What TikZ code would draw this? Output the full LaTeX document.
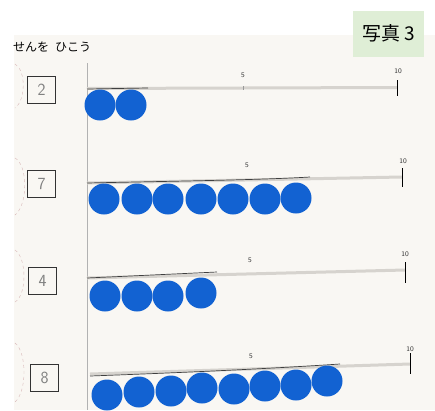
\documentclass[tikz,border=0pt]{standalone}
\usepackage{fontspec}
\newfontfamily\jp{Noto Sans CJK JP}
\definecolor{paper}{HTML}{F9F7F3}
\definecolor{dotblue}{HTML}{1262D2}
\definecolor{labelgreen}{HTML}{DFEED6}
\definecolor{rulegray}{HTML}{D6D3CE}
\definecolor{pencil}{HTML}{D8B8B8}
\tikzset{
  dot/.style={circle,fill=dotblue,inner sep=0pt,minimum size=31pt},
  numbox/.style={draw=black!80,line width=0.6pt,minimum width=28pt,minimum height=27pt,inner sep=0pt,font=\sffamily\fontsize{17}{17}\selectfont,text=black!50},
  ticklbl/.style={font=\sffamily\fontsize{7}{7}\selectfont,text=black!80,inner sep=0pt},
  grayrule/.style={rulegray,line width=3pt},
  darkrule/.style={black!75,line width=0.7pt},
  endtick/.style={black,line width=1pt},
  faint/.style={pencil,dashed,line width=0.4pt},
  edge/.style={black!30,line width=0.5pt}
}
\begin{document}
\begin{tikzpicture}[x=1pt,y=-1pt]
\useasboundingbox (0,0) rectangle (435,410);
\fill[white] (0,0) rectangle (435,410);
\fill[paper] (14,35) rectangle (435,410);
% heading
\node[anchor=west,inner sep=0pt,font=\jp\fontsize{12}{12}\selectfont] (head) at (13,47) {せんを\hspace{0.5em}ひこう};
\node[fill=labelgreen,minimum width=71pt,minimum height=46pt,inner sep=0pt,font=\jp\fontsize{19}{19}\selectfont] (photo) at (388.5,33.5) {写真 3};
% strip left edge
\draw[edge] (87,63) -- (87,410);
% faint pencil arcs
\draw[faint] (15,64) .. controls (26,70) and (26,100) .. (15,108);
\draw[faint] (15,158) .. controls (28,165) and (28,205) .. (15,215);
\draw[faint] (15,250) .. controls (27,258) and (27,295) .. (15,302);
\draw[faint] (15,343) .. controls (27,352) and (27,392) .. (15,402);
% number boxes
\node[numbox] (b1) at (41.5,90) {2};
\node[numbox] (b2) at (41.5,184) {7};
\node[numbox] (b3) at (42.5,280.5) {4};
\node[numbox] (b4) at (44.5,377.5) {8};
% ---- row 1
\draw[grayrule] (87,88.5) -- (397,87.5);
\draw[darkrule] (87,89) -- (148,88);
\draw[endtick] (397,80) -- (397,96);
\draw[black!40,line width=0.4pt] (243,86) -- (243,90);
\node[ticklbl] (f1) at (243,75) {5};
\node[ticklbl] (t1) at (398,71) {10};
\node[dot] (a1) at (100,105) {};
\node[dot] (a2) at (131,105) {};
% ---- row 2
\draw[grayrule] (87,183) -- (402,177);
\draw[darkrule] (87,183) .. controls (180,181) and (260,180) .. (310,177);
\draw[endtick] (402,168) -- (402,187);
\node[ticklbl] (f2) at (247,165) {5};
\node[ticklbl] (t2) at (403,161) {10};
\foreach \x/\n in {104/1,137/2,168/3,201/4,233/5,265/6}{\node[dot] (c\n) at (\x,199) {};}
\node[dot] (c7) at (296,198) {};
% ---- row 3
\draw[grayrule] (87,278) -- (405,270);
\draw[darkrule] (87,278) -- (217,272);
\draw[endtick] (405,262) -- (405,283);
\node[ticklbl] (f3) at (250,260) {5};
\node[ticklbl] (t3) at (405,254) {10};
\node[dot] (d1) at (105,296) {};
\node[dot] (d2) at (137,296) {};
\node[dot] (d3) at (168,296) {};
\node[dot] (d4) at (201,293) {};
% ---- row 4
\draw[grayrule] (90,374) -- (410,364);
\draw[darkrule] (90,376) .. controls (200,372) and (280,368) .. (340,364);
\draw[endtick] (410,353) -- (410,374);
\node[ticklbl] (f4) at (251,356) {5};
\node[ticklbl] (t4) at (410,349) {10};
\node[dot] (e1) at (107,395) {};
\node[dot] (e2) at (139,392) {};
\node[dot] (e3) at (171,391) {};
\node[dot] (e4) at (202,388) {};
\node[dot] (e5) at (234,389) {};
\node[dot] (e6) at (265,386) {};
\node[dot] (e7) at (296,385) {};
\node[dot] (e8) at (327,381) {};
\end{tikzpicture}
\end{document}
